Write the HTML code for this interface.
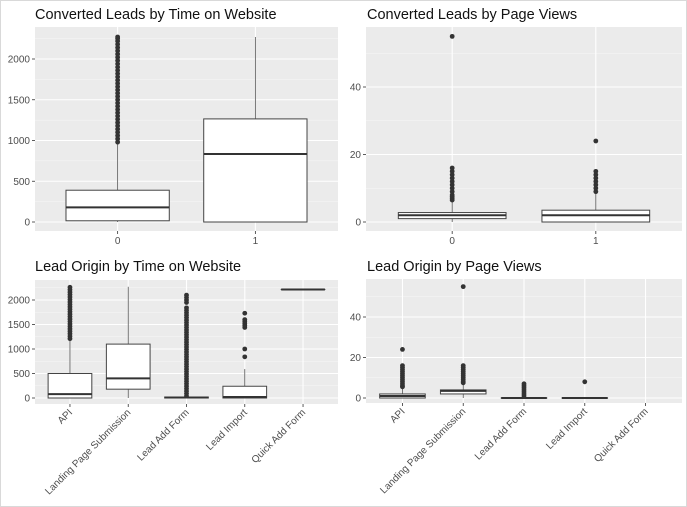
<!DOCTYPE html>
<html><head><meta charset="utf-8">
<style>
html,body{margin:0;padding:0;background:#fff;}
body{width:687px;height:507px;overflow:hidden;font-family:"Liberation Sans",sans-serif;}
svg{display:block;}
</style></head>
<body>
<svg id="chart" width="687" height="507" xmlns="http://www.w3.org/2000/svg">
<rect x="0.5" y="0.5" width="686" height="506" fill="#fff" stroke="#d9d9d9"/>
</svg>
<script>
// ---- Panel 1: Converted Leads by Time on Website ----
const p1Categories = ["0", "1"];
const p1Low = [0, 0];
const p1Q1 = [15, 0];
const p1Median = [180, 835];
const p1Q3 = [390, 1265];
const p1High = [960, 2270];
const p1Outliers = [
  [980,1020,1060,1100,1140,1180,1220,1260,1300,1340,1380,1420,1460,1500,1540,1580,1620,1660,1700,1740,1780,1820,1860,1900,1940,1980,2020,2060,2100,2140,2180,2220,2250,2270],
  []
];
const p1Ticks = [0, 500, 1000, 1500, 2000];

// ---- Panel 2: Converted Leads by Page Views ----
const p2Categories = ["0", "1"];
const p2Low = [0, 0];
const p2Q1 = [1, 0];
const p2Median = [2, 2];
const p2Q3 = [2.8, 3.5];
const p2High = [6, 8.5];
const p2Outliers = [
  [6.5,7,7.5,8,9,10,11,12,13,14,15,16,55],
  [9,10,11,12,13,14,15,24]
];
const p2Ticks = [0, 20, 40];

// ---- Panel 3: Lead Origin by Time on Website ----
const p3Categories = ["API", "Landing Page Submission", "Lead Add Form", "Lead Import", "Quick Add Form"];
const p3Low = [0, 0, 0, 0, 2215];
const p3Q1 = [0, 180, 0, 0, 2215];
const p3Median = [80, 400, 10, 20, 2215];
const p3Q3 = [500, 1100, 20, 240, 2215];
const p3High = [1190, 2270, 25, 590, 2215];
const p3Outliers = [
  [1210,1260,1310,1360,1410,1460,1510,1560,1610,1660,1710,1760,1810,1860,1910,1960,2010,2060,2110,2160,2210,2260],
  [],
  [40,90,140,190,240,290,340,390,440,490,540,590,640,690,740,790,840,890,940,990,1040,1090,1140,1190,1240,1290,1340,1390,1440,1490,1540,1590,1640,1690,1740,1790,1840,1950,2000,2050,2100],
  [840,1000,1440,1480,1520,1560,1600,1730],
  []
];
const p3Ticks = [0, 500, 1000, 1500, 2000];

// ---- Panel 4: Lead Origin by Page Views ----
const p4Categories = ["API", "Landing Page Submission", "Lead Add Form", "Lead Import", "Quick Add Form"];
const p4Low = [0, 0, 0, 0, null];
const p4Q1 = [0, 2, 0, 0, null];
const p4Median = [1, 3.5, 0, 0, null];
const p4Q3 = [2, 4, 0, 0, null];
const p4High = [5, 7, 0, 0, null];
const p4Outliers = [
  [5.5,6,7,8,9,10,11,12,13,14,15,16,24],
  [7.5,8,9,10,11,12,13,14,15,16,55],
  [1,2,3,4,5,6,7],
  [8],
  []
];
const p4Ticks = [0, 20, 40];

const NS = "http://www.w3.org/2000/svg";
const svg = document.getElementById("chart");
function mk(tag, attrs, parent) {
  const e = document.createElementNS(NS, tag);
  for (const k in attrs) e.setAttribute(k, attrs[k]);
  (parent || svg).appendChild(e);
  return e;
}

function panel(cfg) {
  const g = mk("g", {});
  
  
  const t = mk("text", {x: cfg.titleX, y: cfg.titleY, "font-size": 14.5, fill: "#111"}, g);
  t.textContent = cfg.title;
  
  
  const bg = mk("rect", {x: cfg.x0, y: cfg.y0, width: cfg.x1 - cfg.x0, height: cfg.y1 - cfg.y0, fill: "#ebebeb"}, g);
  
  
  const yS = v => cfg.yZero - (v / cfg.yRefVal) * (cfg.yZero - cfg.yRefPx);
  const n = cfg.cats.length;
  const bw = (cfg.x1 - cfg.x0) / (n + 0.2);
  const xS = i => cfg.x0 + bw * (0.6 + i);
  const step = cfg.ticks[1] - cfg.ticks[0];
  // minor grid
  for (let v = -step / 2; yS(v) > cfg.y0; v += step) {
    if (yS(v) > cfg.y1) continue;
    mk("line", {x1: cfg.x0, x2: cfg.x1, y1: yS(v), y2: yS(v), stroke: "#f7f7f7", "stroke-width": 0.6}, g);
  }
  cfg.ticks.forEach(v => {
    const gl = mk("line", {x1: cfg.x0, x2: cfg.x1, y1: yS(v), y2: yS(v), stroke: "#fff", "stroke-width": 1.1}, g);
    
    
    mk("line", {x1: cfg.x0 - 3, x2: cfg.x0, y1: yS(v), y2: yS(v), stroke: "#333", "stroke-width": 0.8}, g);
    const tl = mk("text", {x: cfg.x0 - 5, y: yS(v) + 3.5, "font-size": 10, fill: "#4d4d4d", "text-anchor": "end"}, g);
    tl.textContent = v;
    
    
  });
  cfg.cats.forEach((c, i) => {
    const x = xS(i);
    mk("line", {x1: x, x2: x, y1: cfg.y0, y2: cfg.y1, stroke: "#fff", "stroke-width": 1.1}, g);
    mk("line", {x1: x, x2: x, y1: cfg.y1, y2: cfg.y1 + 3, stroke: "#333", "stroke-width": 0.8}, g);
    let lab;
    if (cfg.rotate) {
      lab = mk("text", {x: x + 3, y: cfg.y1 + 9, "font-size": 10, fill: "#4d4d4d", "text-anchor": "end", transform: `rotate(-45 ${x + 3} ${cfg.y1 + 9})`}, g);
    } else {
      lab = mk("text", {x: x, y: cfg.y1 + 13, "font-size": 10, fill: "#4d4d4d", "text-anchor": "middle"}, g);
    }
    lab.textContent = c;
    
    
    if (cfg.q1[i] === null) return;
    const half = bw * 0.375;
    const bx = mk("g", {}, g);
    
    
    mk("line", {x1: x, x2: x, y1: yS(cfg.high[i]), y2: yS(cfg.q3[i]), stroke: "#555", "stroke-width": 0.8}, bx);
    mk("line", {x1: x, x2: x, y1: yS(cfg.q1[i]), y2: yS(cfg.low[i]), stroke: "#555", "stroke-width": 0.8}, bx);
    const h = Math.max(yS(cfg.q1[i]) - yS(cfg.q3[i]), 0.01);
    mk("rect", {x: x - half, y: yS(cfg.q3[i]), width: half * 2, height: h, fill: "#fff", stroke: "#444", "stroke-width": 1}, bx);
    mk("line", {x1: x - half, x2: x + half, y1: yS(cfg.median[i]), y2: yS(cfg.median[i]), stroke: "#333", "stroke-width": 2}, bx);
    cfg.out[i].forEach(v => {
      const p = mk("circle", {cx: x, cy: yS(v), r: 2.4, fill: "#333"}, bx);
      
      
    });
  });
}

panel({name: "panel-converted-by-time", title: "Converted Leads by Time on Website", titleX: 35, titleY: 19,
  x0: 35, x1: 338, y0: 27, y1: 231, yZero: 222, yRefVal: 2000, yRefPx: 59,
  cats: p1Categories, low: p1Low, q1: p1Q1, median: p1Median, q3: p1Q3, high: p1High, out: p1Outliers, ticks: p1Ticks});
panel({name: "panel-converted-by-pageviews", title: "Converted Leads by Page Views", titleX: 367, titleY: 19,
  x0: 366, x1: 682, y0: 27, y1: 231, yZero: 222, yRefVal: 40, yRefPx: 87,
  cats: p2Categories, low: p2Low, q1: p2Q1, median: p2Median, q3: p2Q3, high: p2High, out: p2Outliers, ticks: p2Ticks});
panel({name: "panel-origin-by-time", title: "Lead Origin by Time on Website", titleX: 35, titleY: 271,
  x0: 35, x1: 338, y0: 280, y1: 404, yZero: 398, yRefVal: 2000, yRefPx: 300, rotate: true,
  cats: p3Categories, low: p3Low, q1: p3Q1, median: p3Median, q3: p3Q3, high: p3High, out: p3Outliers, ticks: p3Ticks});
panel({name: "panel-origin-by-pageviews", title: "Lead Origin by Page Views", titleX: 367, titleY: 271,
  x0: 366, x1: 682, y0: 279, y1: 403, yZero: 398, yRefVal: 40, yRefPx: 317, rotate: true,
  cats: p4Categories, low: p4Low, q1: p4Q1, median: p4Median, q3: p4Q3, high: p4High, out: p4Outliers, ticks: p4Ticks});
</script>
</body></html>
